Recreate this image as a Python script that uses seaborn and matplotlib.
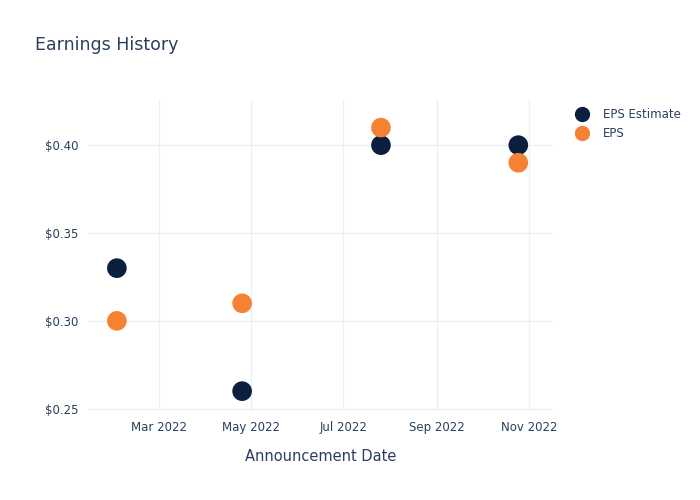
import matplotlib
matplotlib.use("Agg")
import matplotlib.pyplot as plt
import matplotlib.dates as mdates
import seaborn as sns
import pandas as pd
import numpy as np
from matplotlib.lines import Line2D

dates = ["2022-02-01", "2022-04-25", "2022-07-26", "2022-10-25"]
eps_estimate = [0.33, 0.26, 0.40, 0.40]
eps_actual = [0.30, 0.31, 0.41, 0.39]
series_names = ["EPS Estimate", "EPS"]
colors = ["#0b1f3f", "#f58233"]

df = pd.DataFrame({
    "date": pd.to_datetime(dates * 2),
    "value": eps_estimate + eps_actual,
    "series": [series_names[0]] * 4 + [series_names[1]] * 4,
})

sns.set_theme(style="white")
plt.rcParams['font.family'] = ['DejaVu Sans']
text_color = "#2a3f5f"

fig = plt.figure(figsize=(7, 5), dpi=100)
ax = fig.add_axes([0.126, 0.178, 0.664, 0.622])

sns.scatterplot(data=df, x="date", y="value", hue="series",
                palette=dict(zip(series_names, colors)), s=200,
                edgecolor="none", ax=ax, legend=False, zorder=3)

ax.set_ylim(0.2487, 0.4257)
ax.set_xlim(pd.Timestamp("2022-01-13"), pd.Timestamp("2022-11-17"))
ax.set_yticks([0.25, 0.30, 0.35, 0.40])
ax.set_yticklabels(["$0.25", "$0.30", "$0.35", "$0.40"])
ax.xaxis.set_major_locator(mdates.MonthLocator(bymonth=[3, 5, 7, 9, 11]))
ax.xaxis.set_major_formatter(mdates.DateFormatter("%b %Y"))
ax.grid(True, color="#ebf0f8", linewidth=1)
for s in ax.spines.values():
    s.set_visible(False)
ax.tick_params(axis="both", length=0, labelsize=8.5, colors=text_color, pad=7)
ax.set_xlabel("Announcement Date", fontsize=10.5, color=text_color, labelpad=11)
ax.set_ylabel("")

fig.text(0.05, 0.91, "Earnings History", fontsize=12.5, color=text_color, va="center")

handles = [Line2D([0], [0], marker="o", linestyle="none", markersize=11,
                  markerfacecolor=c, markeredgecolor="none") for c in colors]
leg = fig.legend(handles, series_names, loc="upper left", bbox_to_anchor=(0.822, 0.783),
                 frameon=False, fontsize=8.5, handletextpad=1.1, labelspacing=0.45,
                 borderaxespad=0, borderpad=0, handlelength=1.2)
for t in leg.get_texts():
    t.set_color(text_color)

fig.savefig("out.png", dpi=100)
